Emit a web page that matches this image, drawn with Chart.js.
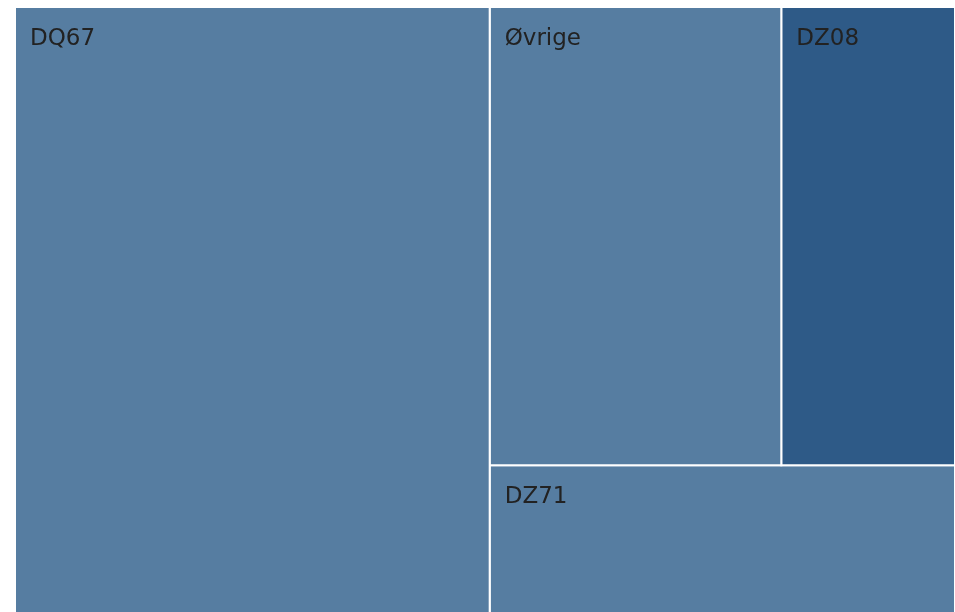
<!DOCTYPE html>
<html>
<head>
<meta charset="utf-8">
<script src="https://cdn.jsdelivr.net/npm/chart.js@4.4.1/dist/chart.umd.min.js"></script>
<style>
html,body{margin:0;padding:0;background:#ffffff;}
#wrap{width:955px;height:612px;position:relative;}
</style>
</head>
<body>
<div id="wrap"><canvas id="c"></canvas></div>
<script>
// ---- data ----
const categories = ['DQ67', 'Øvrige', 'DZ08', 'DZ71'];
const values = [50.6, 23.5, 14.0, 12.1];
const cellColors = ['#567da1', '#567da1', '#2e5a87', '#567da1'];

// ---- layout config ----
const X_MAX = 940, Y_MAX = 606;
const PHI = (1 + Math.sqrt(5)) / 2;

// squarify (ratio = golden) tiling, computed from the values
function squarify(vals, x0, y0, x1, y1, ratio) {
  const nodes = vals.map((v, i) => ({ i, value: v }));
  const out = [];
  let value = vals.reduce((a, b) => a + b, 0);
  let i0 = 0, i1 = 0; const n = nodes.length;
  while (i0 < n) {
    const dx = x1 - x0, dy = y1 - y0;
    let sumValue = nodes[i1++].value;
    let minValue = sumValue, maxValue = sumValue;
    const alpha = Math.max(dy / dx, dx / dy) / (value * ratio);
    let beta = sumValue * sumValue * alpha;
    let minRatio = Math.max(maxValue / beta, beta / minValue);
    for (; i1 < n; ++i1) {
      const nv = nodes[i1].value;
      sumValue += nv;
      if (nv < minValue) minValue = nv;
      if (nv > maxValue) maxValue = nv;
      beta = sumValue * sumValue * alpha;
      const newRatio = Math.max(maxValue / beta, beta / minValue);
      if (newRatio > minRatio) { sumValue -= nv; break; }
      minRatio = newRatio;
    }
    const row = nodes.slice(i0, i1);
    if (dx < dy) {
      const ny = y0 + dy * sumValue / value;
      let cx = x0;
      row.forEach(nd => { const w = dx * nd.value / sumValue; out[nd.i] = { x0: cx, x1: cx + w, y0: y0, y1: ny }; cx += w; });
      y0 = ny;
    } else {
      const nx = x0 + dx * sumValue / value;
      let cy = y0;
      row.forEach(nd => { const h = dy * nd.value / sumValue; out[nd.i] = { x0: x0, x1: nx, y0: cy, y1: cy + h }; cy += h; });
      x0 = nx;
    }
    value -= sumValue; i0 = i1;
  }
  return out;
}

const order = values.map((v, i) => i).sort((a, b) => values[b] - values[a]);
const tiles = squarify(order.map(i => values[i]), 0, 0, X_MAX, Y_MAX, PHI);
const rects = [];
order.forEach((idx, k) => { rects[idx] = tiles[k]; });

const datasets = categories.map((name, i) => {
  const r = rects[i];
  return {
    label: name,
    data: [
      { x: r.x0, y: r.y0 }, { x: r.x1, y: r.y0 }, { x: r.x1, y: r.y1 },
      { x: r.x0, y: r.y1 }, { x: r.x0, y: r.y0 }
    ],
    showLine: true,
    fill: 'shape',
    clip: false,
    backgroundColor: cellColors[i],
    borderColor: '#ffffff',
    borderWidth: 2,
    pointRadius: 0,
    pointHoverRadius: 0,
    tension: 0
  };
});

const labelPlugin = {
  id: 'cellLabels',
  afterDatasetsDraw(chart) {
    const ctx = chart.ctx, xs = chart.scales.x, ys = chart.scales.y;
    ctx.save();
    ctx.font = '23px "DejaVu Sans", Verdana, sans-serif';
    ctx.fillStyle = '#222222';
    ctx.textAlign = 'left';
    ctx.textBaseline = 'alphabetic';
    categories.forEach((name, i) => {
      const r = rects[i];
      const px = xs.getPixelForValue(r.x0);
      const py = ys.getPixelForValue(r.y0);
      ctx.fillText(name, px + 15, py + 38);
    });
    ctx.restore();
  }
};

new Chart(document.getElementById('c'), {
  type: 'scatter',
  data: { datasets },
  options: {
    responsive: true,
    maintainAspectRatio: false,
    animation: false,
    layout: { padding: { left: 15, top: 7, right: 0, bottom: 0 } },
    scales: {
      x: { type: 'linear', min: 0, max: X_MAX, display: false },
      y: { type: 'linear', min: 0, max: Y_MAX - 1, reverse: true, display: false }
    },
    plugins: { legend: { display: false }, tooltip: { enabled: false } },
    events: []
  },
  plugins: [labelPlugin]
});
</script>
</body>
</html>
